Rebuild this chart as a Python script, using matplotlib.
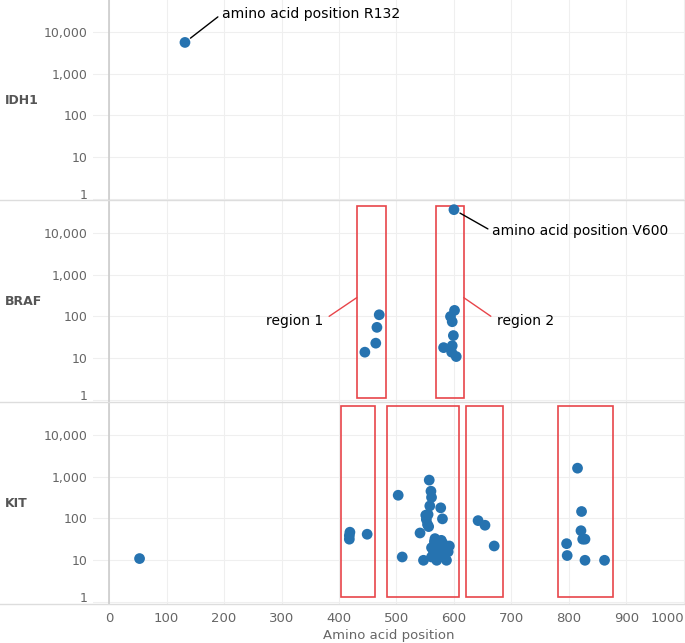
import matplotlib
matplotlib.use("Agg")
import matplotlib.pyplot as plt
from matplotlib.patches import Rectangle
from matplotlib.lines import Line2D
import matplotlib.transforms as mtransforms

genes = ['IDH1', 'BRAF', 'KIT']

idh1_pos = [132]
idh1_cnt = [5600]

braf_pos = [600, 470, 466, 464, 445, 601, 594, 597, 599, 582, 597, 596, 604]
braf_cnt = [36000, 110, 55, 23, 14, 140, 100, 75, 35, 18, 20, 14, 11]

kit_pos = [53, 419, 418, 418, 449,
           503, 557, 560, 561, 558, 577, 551, 555, 552, 554, 580, 556, 541, 510, 547,
           567, 570, 561, 581, 592, 587, 564, 573, 570, 587, 561, 576, 584, 566, 578, 590, 571,
           642, 654, 670,
           815, 822, 821, 824, 828, 796, 797, 828, 862]
kit_cnt = [11, 47, 39, 32, 42,
           360, 830, 450, 320, 200, 180, 120, 125, 95, 72, 98, 64, 45, 12, 10,
           33, 25, 20, 25, 22, 16, 14, 12, 10, 10, 12, 19, 13, 28, 30, 16, 18,
           89, 69, 22,
           1600, 147, 51, 32, 32, 25, 13, 10, 10]

# boxes: (x start, x end)
braf_boxes = [(431, 481), (568, 617)]
kit_boxes = [(403, 463), (483, 609), (621, 685), (781, 877)]

xticks = [0, 100, 200, 300, 400, 500, 600, 700, 800, 900, 1000]
yticks = [1, 10, 100, 1000, 10000]
ylabels = ['1', '10', '100', '1,000', '10,000']

dot = '#2673b0'
grid = '#efefef'
gray = '#666666'

fig = plt.figure(figsize=(6.85, 6.43), dpi=100)
left = 93 / 685
h = 201 / 643
bottoms = [1 - 201 / 643, 1 - 402 / 643, 1 - 604 / 643]
axes = [fig.add_axes([left, b, 1 - left, h]) for b in bottoms]

data = [(idh1_pos, idh1_cnt), (braf_pos, braf_cnt), (kit_pos, kit_cnt)]
for i, ax in enumerate(axes):
    ax.set_yscale('log')
    ax.set_xlim(-28, 1002)
    ax.set_ylim(0.9, 58000)
    for s in ax.spines.values():
        s.set_visible(False)
    ax.set_xticks(xticks)
    ax.set_yticks(yticks)
    ax.set_yticklabels(ylabels)
    ax.minorticks_off()
    ax.grid(True, color=grid, linewidth=0.8)
    ax.set_axisbelow(True)
    ax.axvline(0, color='#cccccc', linewidth=1.2, zorder=1)
    ax.tick_params(axis='y', length=0, labelsize=9, labelcolor=gray, pad=4)
    ax.tick_params(axis='x', length=0, labelsize=9.5, labelcolor=gray, pad=6)
    # lift the "1" label a bit so it stays inside the panel
    lab1 = ax.get_yticklabels()[0]
    lab1.set_transform(lab1.get_transform() + mtransforms.ScaledTranslation(0, 4 / 72, fig.dpi_scale_trans))
    if i < 2:
        ax.set_xticklabels([])
    ax.scatter(data[i][0], data[i][1], s=60, color=dot, edgecolors='none', zorder=3)
    fig.text(0.007, bottoms[i] + h / 2, genes[i], fontsize=9, fontweight='bold', color='#555555', va='center')

xl = axes[2].get_xticklabels()
xl[-1].set_horizontalalignment('right')
axes[2].set_xlabel('Amino acid position', fontsize=9.5, color=gray, labelpad=3)

# separator lines
for yy in [1 - 200 / 643, 1 - 402 / 643, 1 - 604 / 643]:
    fig.add_artist(Line2D([0, 1], [yy, yy], color='#dddddd', linewidth=1, transform=fig.transFigure))

# red boxes
for ax, boxes, (y0, y1) in [(axes[1], braf_boxes, (0.02, 0.975)), (axes[2], kit_boxes, (0.035, 0.985))]:
    tr = mtransforms.blended_transform_factory(ax.transData, ax.transAxes)
    for x0, x1 in boxes:
        ax.add_patch(Rectangle((x0, y0), x1 - x0, y1 - y0, transform=tr, fill=False,
                               edgecolor='#e8454a', linewidth=1.2, zorder=2))

# annotations
axes[0].annotate('amino acid position R132', xy=(132, 5600), xytext=(196, 27000),
                 fontsize=10.1, va='center', ha='left',
                 arrowprops=dict(arrowstyle='-', color='black', lw=1, shrinkA=1, shrinkB=5, relpos=(0, 0.5)))
axes[1].annotate('amino acid position V600', xy=(600, 36000), xytext=(666, 11000),
                 fontsize=10, va='center', ha='left',
                 arrowprops=dict(arrowstyle='-', color='black', lw=1, shrinkA=1, shrinkB=5, relpos=(0, 0.5)))
axes[1].annotate('region 1', xy=(431, 283), xytext=(372, 80),
                 fontsize=10, va='center', ha='right',
                 arrowprops=dict(arrowstyle='-', color='#e8454a', lw=1, shrinkA=3, shrinkB=0, relpos=(1, 0.5)))
axes[1].annotate('region 2', xy=(617, 283), xytext=(675, 80),
                 fontsize=10, va='center', ha='left',
                 arrowprops=dict(arrowstyle='-', color='#e8454a', lw=1, shrinkA=3, shrinkB=0, relpos=(0, 0.5)))

fig.savefig('out.png', dpi=100)
